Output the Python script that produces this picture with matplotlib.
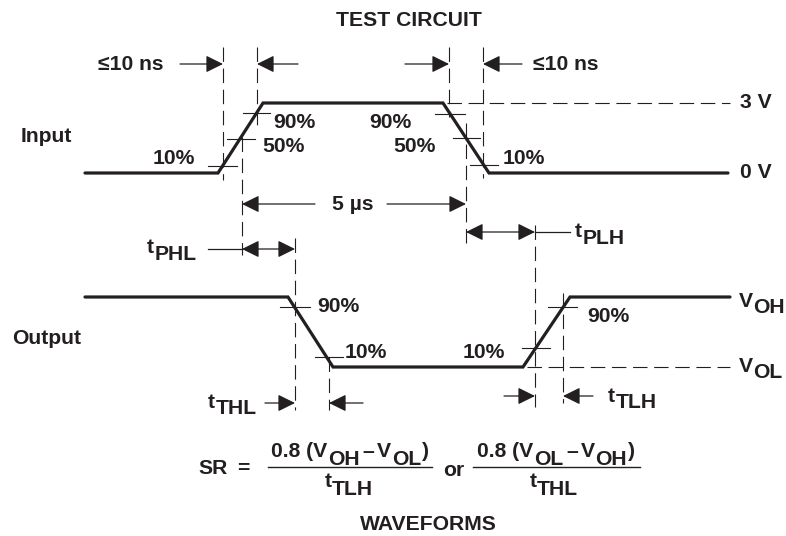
import matplotlib
matplotlib.use('Agg')
import matplotlib.pyplot as plt

# ---------------- data (diagram coordinates, pixels from top-left) ----------------
input_x = [85, 218, 263, 443, 489, 728]
input_y = [173, 173, 103, 103, 173, 173]
output_x = [85, 288, 333, 523, 570, 730]
output_y = [297, 297, 367, 367, 297, 297]

# dashed reference lines: vertical (x, y0, y1) and horizontal (y, x0, x1)
vdash_x = [223, 257, 242, 449, 483, 466, 295, 329, 535, 563]
vdash_y0 = [47, 47, 137, 47, 47, 123, 238, 357, 225, 293]
vdash_y1 = [180, 130, 255, 117, 178, 243, 410, 410, 407, 403]
hdash_y = [103, 367]
hdash_x0 = [447, 527]
hdash_x1 = [730, 730]

# percentage tick marks (y, x0, x1)
tick_y = [166, 139, 113, 114, 138, 165, 307, 357, 348, 307]
tick_x0 = [208, 227, 243, 435, 453, 470, 280, 315, 522, 548]
tick_x1 = [237, 255, 270, 465, 480, 498, 310, 343, 550, 577]

# plain labels: text, x, y, ha
labels = ["TEST CIRCUIT", "WAVEFORMS", "Input", "Output", "3 V", "0 V",
          "≤10 ns", "≤10 ns", "5 µs",
          "10%", "50%", "90%", "90%", "50%", "10%",
          "90%", "10%", "10%", "90%", "SR", "=", "or"]
label_x = [409, 428, 21, 12, 740, 740,
           98, 533, 353,
           153, 262, 273, 411, 436, 503,
           317, 345, 463, 587, 198, 237, 443]
label_y = [21, 525, 136, 338, 103, 173,
           64, 64, 204,
           159, 146, 122, 122, 146, 158,
           306, 353, 353, 316, 468, 468, 470]
label_ha = ["center", "center", "left", "left", "left", "left",
            "left", "left", "center",
            "left", "left", "left", "right", "right", "left",
            "left", "left", "left", "left", "left", "left", "left"]

# single arrows: tail -> tip
arrow_tail_x = [180, 298, 405, 522, 315, 387, 265, 363, 504, 593]
arrow_tip_x = [223, 257, 449, 483, 242, 466, 295, 329, 535, 563]
arrow_y = [64, 64, 64, 64, 204, 204, 403, 403, 396, 396]

# double arrows (x0, x1, y) and leader lines (x0, x1, y)
darrow_x0 = [242, 466]
darrow_x1 = [295, 535]
darrow_y = [249, 232]
leader_x0 = [208, 535]
leader_x1 = [242, 570]
leader_y = [249, 232]

# ---------------- drawing ----------------
W, H = 786, 536
INK = '#231f20'
FS = 15.2
FONT = ['Liberation Sans', 'DejaVu Sans']

fig = plt.figure(figsize=(W / 100, H / 100), dpi=100)
ax = fig.add_axes([0, 0, 1, 1])
ax.set_xlim(0, W)
ax.set_ylim(H, 0)
ax.axis('off')
renderer = fig.canvas.get_renderer()

dash = (0, (13, 6))
for x, a, b in zip(vdash_x, vdash_y0, vdash_y1):
    ax.plot([x, x], [a, b], color=INK, lw=0.8, ls=dash, dash_capstyle='butt')
for y, a, b in zip(hdash_y, hdash_x0, hdash_x1):
    ax.plot([a, b], [y, y], color=INK, lw=0.8, ls=dash, dash_capstyle='butt')
for y, a, b in zip(tick_y, tick_x0, tick_x1):
    ax.plot([a, b], [y, y], color=INK, lw=0.8)

ax.plot(input_x, input_y, color=INK, lw=2.3, solid_joinstyle='miter', solid_capstyle='round')
ax.plot(output_x, output_y, color=INK, lw=2.3, solid_joinstyle='miter', solid_capstyle='round')

ahead = '-|>,head_length=1.05,head_width=0.52'
for t0, t1, y in zip(arrow_tail_x, arrow_tip_x, arrow_y):
    ax.annotate('', xy=(t1, y), xytext=(t0, y),
                arrowprops=dict(arrowstyle=ahead, color=INK, lw=0.9,
                                shrinkA=0, shrinkB=0, mutation_scale=10))
dhead = '<|-|>,head_length=1.05,head_width=0.52'
for a, b, y in zip(darrow_x0, darrow_x1, darrow_y):
    ax.annotate('', xy=(b, y), xytext=(a, y),
                arrowprops=dict(arrowstyle=dhead, color=INK, lw=0.9,
                                shrinkA=0, shrinkB=0, mutation_scale=10))
for a, b, y in zip(leader_x0, leader_x1, leader_y):
    ax.plot([a, b], [y, y], color=INK, lw=0.9)

for s, x, y, ha in zip(labels, label_x, label_y, label_ha):
    ax.text(x, y, s, fontsize=FS, fontweight='bold', family=FONT, color=INK,
            ha=ha, va='center')


def rich(x, y, parts, center=False):
    """parts: list of (text, dy, gap_before)"""
    texts = []
    cx = x
    for s, dy, gap in parts:
        cx += gap
        t = ax.text(cx, y + dy, s, fontsize=FS, fontweight='bold', family=FONT,
                    color=INK, ha='left', va='baseline')
        cx += t.get_window_extent(renderer).width
        texts.append(t)
    if center:
        total = cx - x
        for t in texts:
            px, py = t.get_position()
            t.set_position((px - total / 2, py))
    return texts


# subscripted timing / level labels
rich(147, 253, [("t", 0, 0), ("PHL", 7, 0.5)])
rich(575, 237, [("t", 0, 0), ("PLH", 7, 0.5)])
rich(208, 408, [("t", 0, 0), ("THL", 6, 0.5)])
rich(608, 402, [("t", 0, 0), ("TLH", 6, 0.5)])
rich(739, 307, [("V", 0, 0), ("OH", 6, 0.5)])
rich(739, 372, [("V", 0, 0), ("OL", 6, 0.5)])

# slew-rate formula
frac_x0 = [268, 473]
frac_x1 = [432, 640]
frac_y = 467
for a, b in zip(frac_x0, frac_x1):
    ax.plot([a, b], [frac_y, frac_y], color=INK, lw=1.0)
rich(350, 457, [("0.8 (V", 0, 0), ("OH", 8, 0.5), ("–", 0, 3), ("V", 0, 3),
                ("OL", 8, 0.5), (")", 0, 1)], center=True)
rich(556, 457, [("0.8 (V", 0, 0), ("OL", 8, 0.5), ("–", 0, 3), ("V", 0, 3),
                ("OH", 8, 0.5), (")", 0, 1)], center=True)
rich(349, 487, [("t", 0, 0), ("TLH", 8, 0.5)], center=True)
rich(554, 487, [("t", 0, 0), ("THL", 8, 0.5)], center=True)

fig.savefig('out.png', dpi=100)
